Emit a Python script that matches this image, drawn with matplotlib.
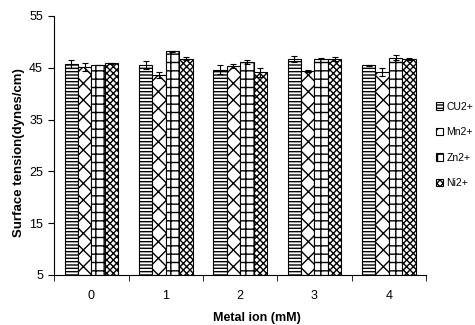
import numpy as np
import matplotlib.pyplot as plt

plt.rcParams['font.family'] = ['Liberation Sans Narrow', 'Liberation Sans', 'DejaVu Sans']
plt.rcParams['hatch.linewidth'] = 1.0

conc = ['0', '1', '2', '3', '4']
ions = ['CU2+', 'Mn2+', 'Zn2+', 'Ni2+']
cu = [45.7, 45.5, 44.6, 46.7, 45.5]
mn = [45.2, 43.6, 45.4, 44.3, 44.2]
zn = [45.5, 48.2, 46.1, 46.7, 46.9]
ni = [45.9, 46.7, 44.1, 46.7, 46.6]
cu_err = [0.7, 0.8, 0.9, 0.6, 0.1]
mn_err = [0.8, 0.6, 0.4, 0.2, 0.7]
zn_err = [0.0, 0.1, 0.3, 0.1, 0.5]
ni_err = [0.1, 0.3, 0.8, 0.4, 0.2]

vals = [cu, mn, zn, ni]
errs = [cu_err, mn_err, zn_err, ni_err]
hatches = ['-----', 'xx', '++', 'xxxxx']
base = 5

fig = plt.figure(figsize=(4.75, 3.25), dpi=100)
ax = fig.add_axes([0.114, 0.154, 0.783, 0.797])

x = np.arange(len(conc))
w = 0.18
for i in range(4):
    pos = x + (i - 1.5) * w
    h = np.array(vals[i]) - base
    ax.bar(pos, h, w, bottom=base, color='white', edgecolor='black',
           hatch=hatches[i], linewidth=0.8, label=ions[i],
           yerr=errs[i], error_kw=dict(ecolor='black', elinewidth=0.8, capsize=2.5, capthick=0.8))

ax.set_xlim(-0.5, 4.5)
ax.set_ylim(5, 55)
ax.set_yticks([5, 15, 25, 35, 45, 55])
ax.set_xticks(x)
ax.set_xticklabels(conc)
ax.set_xticks(np.arange(-0.5, 5.0, 1), minor=True)
ax.tick_params(axis='x', which='major', length=0, pad=11, labelsize=9)
ax.tick_params(axis='x', which='minor', length=4, direction='out')
ax.tick_params(axis='y', labelsize=9, length=4, direction='out', pad=4)
ax.spines['top'].set_visible(False)
ax.spines['right'].set_visible(False)
ax.spines['left'].set_linewidth(0.8)
ax.spines['bottom'].set_linewidth(0.8)

ax.set_xlabel('Metal ion (mM)', fontsize=9, fontweight='bold')
ax.set_ylabel('Surface tension(dynes/cm)', fontsize=9.5, fontweight='bold',
              family=['Liberation Sans', 'DejaVu Sans'])
# label positions
ax.xaxis.set_label_coords((257 - 54) / 372, -(312 - 275) / 259)
ax.yaxis.set_label_coords(-(54 - 25) / 372, (275 - 153) / 259)

fig.legend(loc='center left', bbox_to_anchor=(0.918, 0.554), frameon=False,
           fontsize=7.5, handlelength=0.7, handleheight=0.7, handletextpad=0.3,
           labelspacing=1.5, borderpad=0, borderaxespad=0)

fig.savefig('out.png', dpi=100)
